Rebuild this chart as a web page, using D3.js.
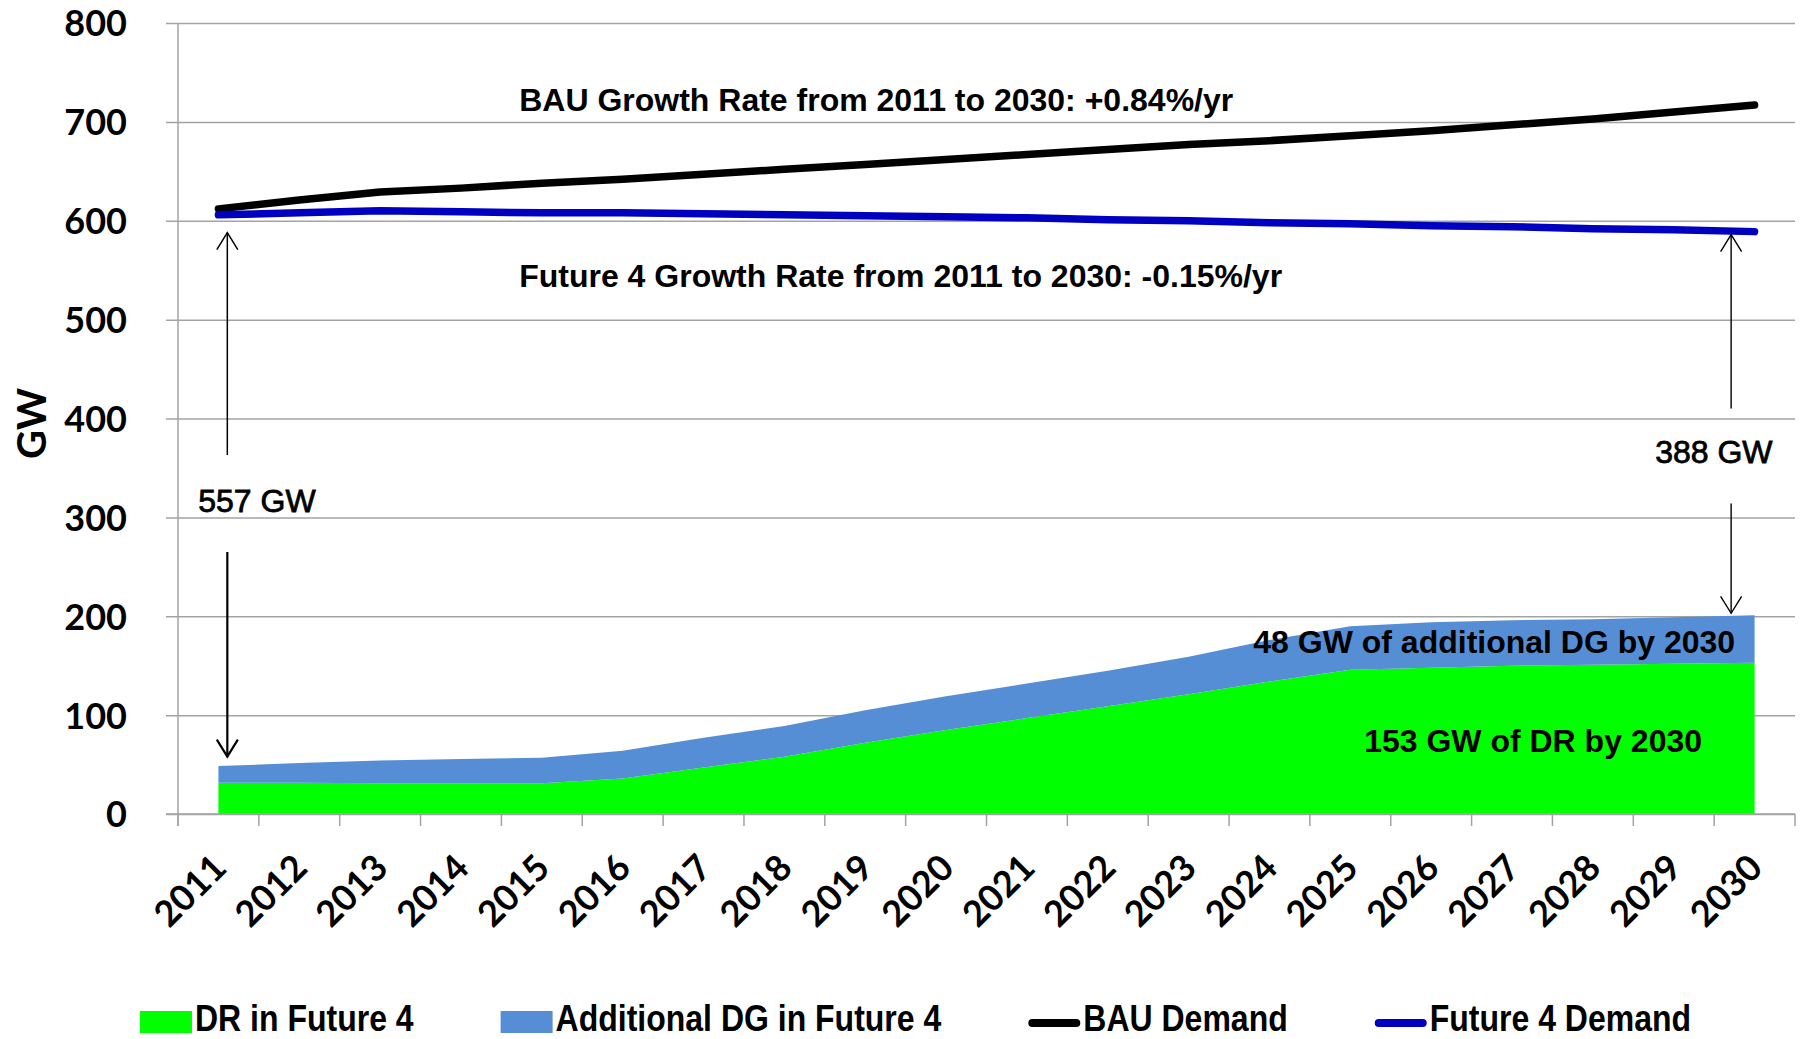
<!DOCTYPE html>
<html>
<head>
<meta charset="utf-8">
<script src="https://cdn.jsdelivr.net/npm/d3@7"></script>
<style>
  html, body { margin: 0; padding: 0; background: #ffffff; }
  svg { display: block; }
</style>
</head>
<body>
<svg id="chart" width="1801" height="1039"></svg>
<script>
// ---------------- DATA ----------------
const years = [2011, 2012, 2013, 2014, 2015, 2016, 2017, 2018, 2019, 2020,
               2021, 2022, 2023, 2024, 2025, 2026, 2027, 2028, 2029, 2030];
// GW, stacked areas
const drFuture4 = [31.5, 31.5, 31, 31, 31, 36, 47, 58, 72, 85,
                   97, 109, 121, 134, 146, 148, 150, 151, 152, 153];
const dgFuture4 = [17, 20, 23, 24.5, 26, 28, 30, 31, 33, 34,
                   35, 36, 38, 42, 44, 46, 46, 46, 47, 48];
// GW, lines
const bauDemand = [612, 621, 629, 633, 638, 642, 647, 652, 657, 662,
                   667, 672, 677, 681, 686, 691, 697, 703, 710, 717];
const future4Demand = [606, 608, 610, 609, 608, 608, 607, 606, 605, 604,
                       603, 601, 600, 598, 597, 595, 594, 592, 591, 589];
const yTickValues = [0, 100, 200, 300, 400, 500, 600, 700, 800];
const yAxisTitle = "GW";
const seriesNames = ["DR in Future 4", "Additional DG in Future 4", "BAU Demand", "Future 4 Demand"];
const seriesColors = ["#00ff00", "#558ed5", "#000000", "#0000c0"];
const seriesKinds = ["area", "area", "line", "line"];
// annotations: position given as category index (0 = 2011) and value in GW
const noteTexts = ["BAU Growth Rate from 2011 to 2030: +0.84%/yr",
                   "Future 4 Growth Rate from 2011 to 2030: -0.15%/yr",
                   "557 GW", "388 GW",
                   "48 GW of additional DG by 2030", "153 GW of DR by 2030"];
const noteIndex = [3.72, 3.72, -0.25, 17.77, 18.76, 18.35];
const noteValue = [711, 533, 305, 355, 163, 63];
const noteAnchor = ["start", "start", "start", "start", "end", "end"];
const noteBold = [true, true, false, false, true, true];
// arrows: from value -> to value (arrow head at "to"), at category index
const arrowIndex = [0.11, 0.11, 18.71, 18.71];
const arrowFrom = [363, 265, 410, 314];
const arrowTo = [588, 58, 586, 203];
const arrowWidth = [1.5, 2.2, 1.4, 1.4];

// ---------------- LAYOUT ----------------
const svg = d3.select("#chart");
const plotLeft = 178, plotRight = 1795, plotTop = 23, plotBottom = 814;
const tickLen = 12;

const x = d3.scaleBand().domain(years).range([plotLeft, plotRight]).paddingInner(0).paddingOuter(0);
const bw = x.bandwidth();
const cx = yr => x(yr) + bw / 2;
const xi = d3.scaleLinear().domain([0, years.length - 1]).range([cx(years[0]), cx(years[years.length - 1])]);
const y = d3.scaleLinear().domain([0, 800]).range([plotBottom, plotTop]);

const table = years.map((yr, i) => ({
  year: yr, dr: drFuture4[i], dg: dgFuture4[i], bau: bauDemand[i], f4: future4Demand[i]
}));

const gridColor = "#a3a3a3";
const tickFont = "Lato, 'Liberation Sans', Arial, sans-serif";
const textFont = "'Liberation Sans', Arial, sans-serif";

// gridlines + y tick labels
const yAxis = svg.append("g")
  .attr("transform", `translate(${plotLeft - tickLen},0)`)
  .call(d3.axisLeft(y).tickValues(yTickValues).tickSize(-(plotRight - plotLeft + tickLen)).tickPadding(39));
yAxis.select(".domain").remove();
yAxis.selectAll(".tick line").attr("stroke", gridColor).attr("stroke-width", 1.5);
yAxis.selectAll(".tick text")
  .attr("font-family", tickFont).attr("font-weight", 700).attr("font-size", 36).attr("fill", "#000")
  .attr("dy", "0.36em");

// stacked areas
const stacked = d3.stack().keys(["dr", "dg"])(table);
const area = d3.area()
  .x(d => cx(d.data.year))
  .y0(d => y(d[0]))
  .y1(d => y(d[1]));
svg.append("g").selectAll("path")
  .data(stacked)
  .join("path")
  .attr("d", area)
  .attr("fill", (d, i) => seriesColors[i]);

// x axis baseline (drawn over areas), y axis line and boundary ticks
svg.append("line")
  .attr("x1", plotLeft - tickLen).attr("x2", plotRight)
  .attr("y1", y(0)).attr("y2", y(0))
  .attr("stroke", gridColor).attr("stroke-width", 1.5);
svg.append("line")
  .attr("x1", plotLeft).attr("x2", plotLeft)
  .attr("y1", y(800)).attr("y2", y(0) + tickLen)
  .attr("stroke", gridColor).attr("stroke-width", 1.5);
const boundaries = years.map(yr => x(yr)).concat([x.range()[1]]);
svg.append("g").selectAll("line")
  .data(boundaries)
  .join("line")
  .attr("x1", d => d).attr("x2", d => d)
  .attr("y1", y(0)).attr("y2", y(0) + tickLen)
  .attr("stroke", gridColor).attr("stroke-width", 1.5);

// x tick labels (rotated)
const xAxis = svg.append("g")
  .attr("transform", `translate(0,${y(0) + 56})`)
  .call(d3.axisBottom(x).tickSize(0).tickPadding(0));
xAxis.select(".domain").remove();
xAxis.selectAll(".tick text")
  .attr("font-family", tickFont).attr("font-weight", 700).attr("font-size", 36).attr("fill", "#000")
  .attr("x", 0).attr("y", 0).attr("dy", 0)
  .attr("text-anchor", "end")
  .attr("transform", "translate(10,0) rotate(-45)");

// y axis title
svg.append("text")
  .attr("transform", `translate(46,${y(395)}) rotate(-90)`)
  .attr("text-anchor", "middle")
  .attr("font-family", tickFont).attr("font-weight", 700).attr("font-size", 40)
  .text(yAxisTitle);

// lines
const lineGen = key => d3.line().x(d => cx(d.year)).y(d => y(d[key]))(table);
svg.append("path").attr("d", lineGen("bau"))
  .attr("fill", "none").attr("stroke", seriesColors[2]).attr("stroke-width", 7.5)
  .attr("stroke-linecap", "round").attr("stroke-linejoin", "round");
svg.append("path").attr("d", lineGen("f4"))
  .attr("fill", "none").attr("stroke", seriesColors[3]).attr("stroke-width", 7.5)
  .attr("stroke-linecap", "round").attr("stroke-linejoin", "round");

// arrows
arrowIndex.forEach((ai, k) => {
  const ax = xi(ai), y1 = y(arrowFrom[k]), y2 = y(arrowTo[k]);
  const dir = y2 < y1 ? -1 : 1;
  const g = svg.append("g").attr("stroke", "#000").attr("stroke-width", arrowWidth[k]).attr("fill", "none");
  g.append("line").attr("x1", ax).attr("x2", ax).attr("y1", y1).attr("y2", y2);
  g.append("path")
    .attr("d", `M${ax - 10.5},${y2 - dir * 17}L${ax},${y2}L${ax + 10.5},${y2 - dir * 17}`);
});

// annotation texts
noteTexts.forEach((t, k) => {
  const el = svg.append("text")
    .attr("x", xi(noteIndex[k])).attr("y", y(noteValue[k]))
    .attr("text-anchor", noteAnchor[k])
    .attr("font-family", textFont)
    .attr("font-weight", noteBold[k] ? 700 : 400)
    .attr("font-size", 32)
    .attr("fill", "#000")
    .text(t);
  if (!noteBold[k]) el.attr("stroke", "#000").attr("stroke-width", 0.8);
});

// legend
const legendY = 1031;
const legendScaleX = 0.865;
let lx = 140;
seriesNames.forEach((name, i) => {
  const sw = 52;
  if (seriesKinds[i] === "area") {
    svg.append("rect").attr("x", lx).attr("y", legendY - 20).attr("width", sw).attr("height", 22)
      .attr("fill", seriesColors[i]);
  } else {
    svg.append("line").attr("x1", lx + 4).attr("x2", lx + sw - 4)
      .attr("y1", legendY - 8).attr("y2", legendY - 8)
      .attr("stroke", seriesColors[i]).attr("stroke-width", 8).attr("stroke-linecap", "round");
  }
  const t = svg.append("text")
    .attr("transform", `translate(${lx + sw + 3},${legendY}) scale(${legendScaleX},1)`)
    .attr("font-family", textFont).attr("font-weight", 700).attr("font-size", 37)
    .attr("fill", "#000").text(name);
  const w = t.node().getComputedTextLength() * legendScaleX;
  lx = lx + sw + 3 + w + 87;
});
</script>
</body>
</html>
